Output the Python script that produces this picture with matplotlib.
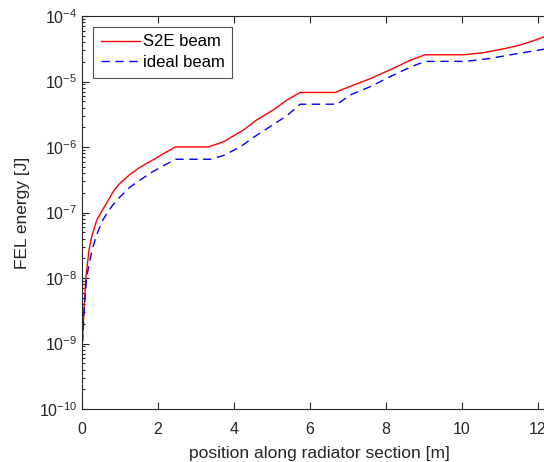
import matplotlib
matplotlib.use("Agg")
import matplotlib.pyplot as plt
import numpy as np
from matplotlib.ticker import LogLocator, NullFormatter, FixedLocator

plt.rcParams['font.family'] = ['Liberation Sans', 'DejaVu Sans']

# Data
x_s2e = [0.0, 0.02, 0.05, 0.1, 0.14, 0.19, 0.255, 0.387, 0.5, 0.65, 0.824, 1.0, 1.26, 1.5,
         1.70, 1.92, 2.14, 2.46,
         3.32, 3.72, 4.24, 4.6, 5.03, 5.39, 5.74,
         6.66, 7.05, 7.58, 8.1, 8.63, 9.03,
         10.05, 10.56, 11.09, 11.53, 11.88, 12.16, 12.5]
y_s2e = [1.2e-9, 1.3e-9, 3.0e-9, 1.0e-8, 1.6e-8, 2.8e-8, 4.3e-8, 7.6e-8, 1.0e-7, 1.4e-7, 2.1e-7, 2.8e-7, 3.8e-7, 4.8e-7,
         5.6e-7, 6.6e-7, 7.9e-7, 1.0e-6,
         1.0e-6, 1.2e-6, 1.8e-6, 2.6e-6, 3.67e-6, 5.2e-6, 6.8e-6,
         6.8e-6, 8.4e-6, 1.1e-5, 1.5e-5, 2.1e-5, 2.56e-5,
         2.56e-5, 2.75e-5, 3.15e-5, 3.6e-5, 4.2e-5, 4.8e-5, 5.4e-5]

x_ideal = [0.0, 0.02, 0.04, 0.08, 0.12, 0.19, 0.255, 0.37, 0.43, 0.54, 0.65, 0.81, 1.0, 1.25, 1.44,
           1.86, 2.2, 2.47,
           3.37, 3.72, 4.16, 4.51, 4.95, 5.39, 5.74,
           6.72, 7.05, 7.58, 8.1, 8.68, 9.03,
           10.1, 10.74, 11.35, 12.14, 12.5]
y_ideal = [1.0e-9, 1.1e-9, 2.3e-9, 5.0e-9, 1.0e-8, 1.66e-8, 2.5e-8, 4.3e-8, 5.3e-8, 7.5e-8, 9.6e-8, 1.3e-7, 1.73e-7, 2.4e-7, 2.9e-7,
           4.2e-7, 5.4e-7, 6.5e-7,
           6.5e-7, 7.4e-7, 1.0e-6, 1.4e-6, 2.05e-6, 3.0e-6, 4.5e-6,
           4.5e-6, 6.2e-6, 8.3e-6, 1.18e-5, 1.7e-5, 2.03e-5,
           2.03e-5, 2.25e-5, 2.6e-5, 3.1e-5, 3.3e-5]

x_ticks = [0, 2, 4, 6, 8, 10, 12]

W, H = 544, 462
fig = plt.figure(figsize=(W / 100, H / 100), dpi=100)
ax = fig.add_axes([82 / W, 53 / H, 475 / W, 393 / H])

dark = '#262626'
ax.plot(x_s2e, y_s2e, color='red', lw=1.0, label='S2E beam')
ax.plot(x_ideal, y_ideal, color='blue', lw=1.0, ls=(0, (6, 4)), label='ideal beam')

ax.set_yscale('log')
ax.set_xlim(0, 12.5)
ax.set_ylim(1e-10, 1e-4)
ax.xaxis.set_major_locator(FixedLocator(x_ticks))
ax.yaxis.set_major_locator(LogLocator(base=10, numticks=20))
ax.yaxis.set_minor_locator(LogLocator(base=10, subs=np.arange(2, 10), numticks=20))
ax.yaxis.set_minor_formatter(NullFormatter())

ax.tick_params(which='both', direction='in', top=True, right=True, colors=dark,
               labelsize=11.5, width=0.8)
ax.tick_params(which='major', length=5)
ax.tick_params(which='minor', length=2.5)
ax.tick_params(axis='x', which='major', pad=9)
for s in ax.spines.values():
    s.set_color(dark)
    s.set_linewidth(0.8)

ax.set_xlabel('position along radiator section [m]', fontsize=12.5, color=dark, labelpad=6.5)
ax.set_ylabel('FEL energy [J]', fontsize=12.5, color=dark, labelpad=6)

leg = ax.legend(loc='upper left', bbox_to_anchor=(11 / 475, 1 - 11 / 393), fontsize=12,
                frameon=True, fancybox=False, borderpad=0.45, handlelength=2.35,
                handletextpad=0.2, labelspacing=0.35, borderaxespad=0)
leg.get_frame().set_edgecolor(dark)
leg.get_frame().set_linewidth(0.8)
for t in leg.get_texts():
    t.set_color('black')

fig.savefig('out.png', dpi=100)
